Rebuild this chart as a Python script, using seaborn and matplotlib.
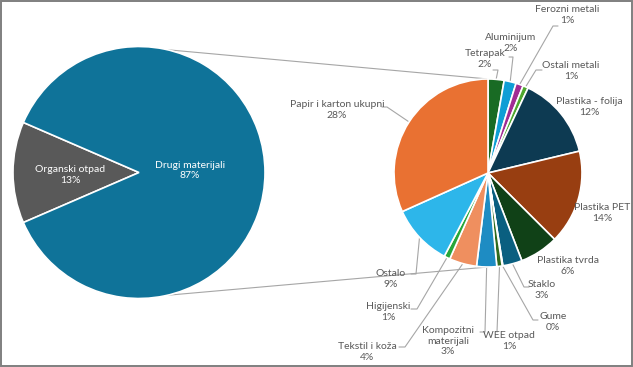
import matplotlib
matplotlib.use("Agg")
import matplotlib.pyplot as plt
import seaborn as sns
import numpy as np
from matplotlib.patches import Rectangle

# primarni pie (% ukupnog otpada)
main_labels = ["Organski otpad", "Drugi materijali"]
main_values = [13, 87]
main_colors = ["#595959", "#0F7399"]

# sekundarni pie - razrada "Drugi materijali" (% ukupnog otpada)
detail_labels = ["Tetrapak", "Aluminijum", "Ferozni metali", "Ostali metali",
                 "Plastika - folija", "Plastika PET", "Plastika tvrda", "Staklo",
                 "Gume", "WEE otpad", "Kompozitni\nmaterijali", "Tekstil i koža",
                 "Higijenski", "Ostalo", "Papir i karton ukupni"]
detail_values = [2.4, 1.8, 1.1, 0.8, 12.4, 14.1, 5.8, 2.9,
                 0.1, 0.8, 3.0, 4.1, 0.9, 9.2, 27.6]
detail_colors = ["#196B24", "#0F9ED5", "#A02B93", "#4EA72E",
                 "#0D3A52", "#983E11", "#104117", "#0A5F80",
                 "#60195A", "#2F6A1C", "#1E8CC3", "#EF8F5F",
                 "#26A63A", "#2DB6EA", "#E97132"]

# raspored labela (pikseli, y od vrha): centar teksta, lakat linije, kraj linije
label_xy = [(485, 59), (511, 43), (567, 15), (571, 71), (589, 107), (602, 213),
            (568, 266), (542, 290), (553, 322), (509, 341), (448, 341),
            (367, 352), (388, 312), (391, 279), (337, 110)]
leader_elbow = [(498, 70), (513, 57), (553, 26), (536, 70), None, None, None,
                (524, 287), (533, 320), (497, 332), (485, 332), (405, 347),
                (417, 309), (416, 274), (387, 107)]
leader_end = [(493, 70), (509, 57), (558, 26), (542, 70), None, None, None,
              (529, 287), (538, 320), None, (480, 332), (399, 347),
              (411, 309), (411, 274), (382, 107)]

W, H = 633, 367

sns.set_style("white")
plt.rcParams['font.family'] = ['Lato', 'DejaVu Sans']

fig = plt.figure(figsize=(W / 100, H / 100), dpi=100)
ax = fig.add_axes([0, 0, 1, 1])


def P(x, y):
    return (x, H - y)


c1, r1 = P(139, 172.5), 126
c2, r2 = P(488, 173), 94

start = 180 + 360 * main_values[0] / sum(main_values) / 2
ax.pie(main_values, colors=main_colors, startangle=start, counterclock=False,
       center=c1, radius=r1, frame=True,
       wedgeprops={'edgecolor': 'white', 'linewidth': 1.2})
ax.text(*P(70, 175), f"{main_labels[0]}\n{main_values[0]}%", color="white",
        ha="center", va="center", fontsize=7.5, linespacing=1.25)
ax.text(*P(190, 170.5), f"{main_labels[1]}\n{main_values[1]}%", color="white",
        ha="center", va="center", fontsize=7.5, linespacing=1.25)

wedges, _ = ax.pie(detail_values, colors=detail_colors, startangle=90,
                   counterclock=False, center=c2, radius=r2, frame=True,
                   wedgeprops={'edgecolor': 'white', 'linewidth': 1.2})

# spojne linije izmedju pita
for sgn in (1, -1):
    a = np.deg2rad(77 * sgn)
    p1 = (c1[0] + r1 * np.cos(a), c1[1] + r1 * np.sin(a))
    p2 = (c2[0], c2[1] + sgn * r2)
    ax.plot([p1[0], p2[0]], [p1[1], p2[1]], color="#A6A6A6", lw=0.8, zorder=0)

for i, w in enumerate(wedges):
    lab = detail_labels[i]
    txt = f"{lab}\n{detail_values[i]:.0f}%"
    ax.text(*P(*label_xy[i]), txt, color="#595959", ha="center", va="center",
            fontsize=7.5, linespacing=1.25)
    if leader_elbow[i] is not None:
        m = np.deg2rad((w.theta1 + w.theta2) / 2)
        xs = [c2[0] + r2 * np.cos(m)]
        ys = [c2[1] + r2 * np.sin(m)]
        for pt in (leader_elbow[i], leader_end[i]):
            if pt is not None:
                xs.append(P(*pt)[0])
                ys.append(P(*pt)[1])
        ax.plot(xs, ys, color="#A6A6A6", lw=0.8, zorder=0)

ax.add_patch(Rectangle((1, 1), W - 2, H - 2, fill=False, edgecolor="#7F7F7F",
                       lw=1.4, clip_on=False, zorder=10))

ax.set_xlim(0, W)
ax.set_ylim(0, H)
ax.set_aspect('equal')
ax.axis('off')

fig.savefig("out.png", dpi=100)
